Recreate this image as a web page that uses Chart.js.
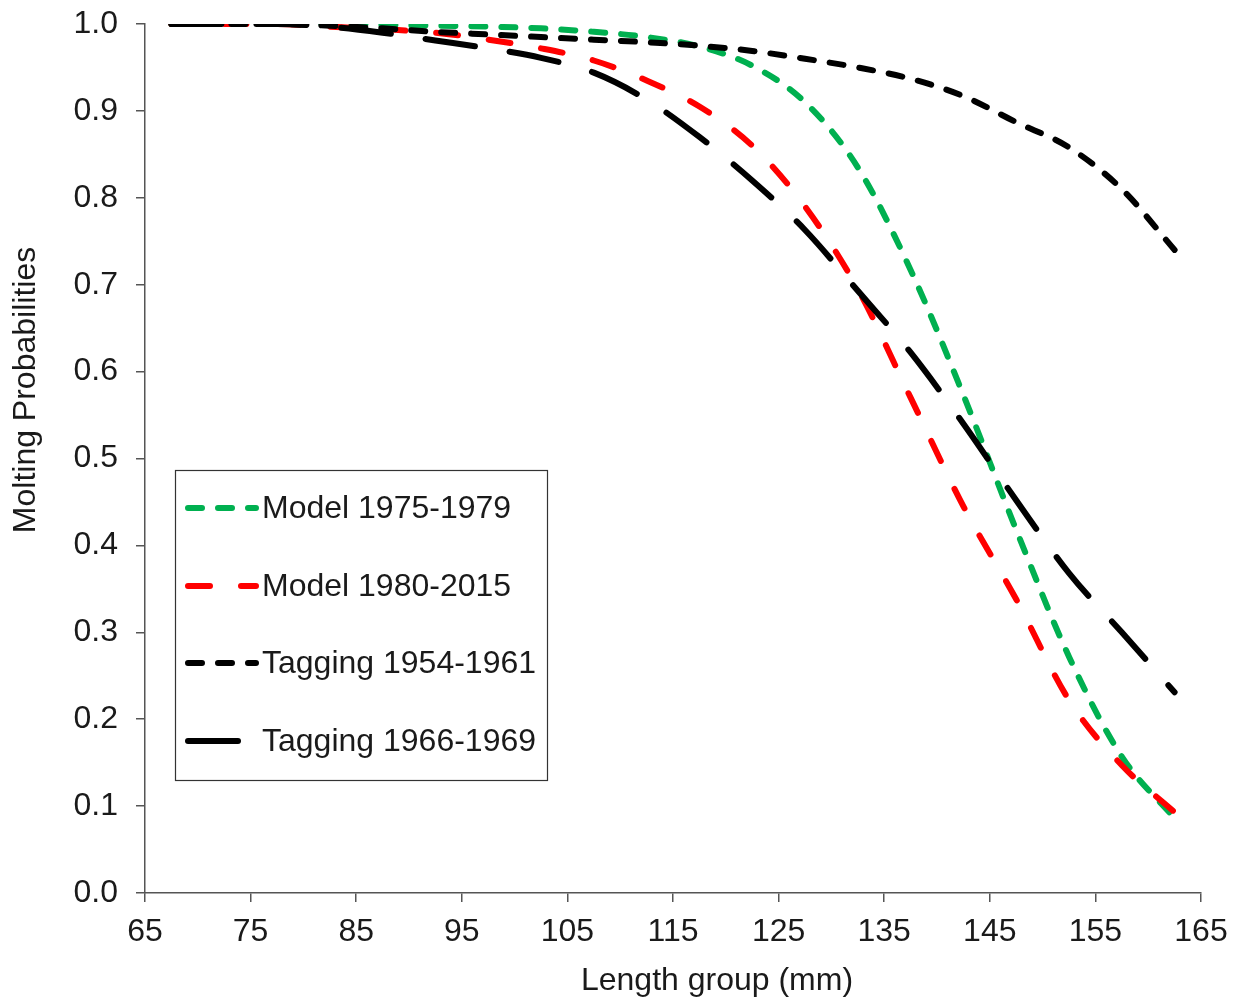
<!DOCTYPE html>
<html>
<head>
<meta charset="utf-8">
<title>Molting probabilities</title>
<script src="https://cdn.jsdelivr.net/npm/chart.js@4.4.1/dist/chart.umd.min.js"></script>
<style>
  html, body { margin: 0; padding: 0; background: #fff; }
  #chart { display: block; }
</style>
</head>
<body>
<canvas id="chart" width="1242" height="1001"></canvas>
<script>
// length group mid-points (mm)
const lengthGroups = [67.5, 72.5, 77.5, 82.5, 87.5, 92.5, 97.5, 102.5, 107.5, 112.5,
                      117.5, 122.5, 127.5, 132.5, 137.5, 142.5, 147.5, 152.5, 157.5, 162.5];

const model1975 = [1.0, 1.0, 1.0, 1.0, 0.999, 0.998, 0.997, 0.995, 0.991, 0.985,
                   0.974, 0.952, 0.91, 0.835, 0.717, 0.573, 0.418, 0.272, 0.157, 0.086];
const model1980 = [1.0, 1.0, 1.0, 0.997, 0.994, 0.99, 0.982, 0.972, 0.958, 0.935,
                   0.905, 0.86, 0.79, 0.695, 0.57, 0.445, 0.338, 0.222, 0.147, 0.093];
const tagging1954 = [1.0, 1.0, 1.0, 0.998, 0.995, 0.991, 0.988, 0.985, 0.982, 0.979,
                     0.975, 0.969, 0.96, 0.95, 0.937, 0.917, 0.887, 0.858, 0.81, 0.74];
const tagging1966 = [1.0, 1.0, 1.0, 0.997, 0.99, 0.981, 0.972, 0.961, 0.944, 0.913,
                     0.87, 0.82, 0.763, 0.693, 0.622, 0.54, 0.452, 0.368, 0.3, 0.231];

const seriesLabels = ['Model 1975-1979', 'Model 1980-2015', 'Tagging 1954-1961', 'Tagging 1966-1969'];
const xTicks = [65, 75, 85, 95, 105, 115, 125, 135, 145, 155, 165];
const yTicks = [0, 0.1, 0.2, 0.3, 0.4, 0.5, 0.6, 0.7, 0.8, 0.9, 1.0];

const FONT = '"Liberation Sans", Arial, sans-serif';
const TEXT = '#1a1a1a';
const AXIS = '#555';

function toPoints(ys) {
  return lengthGroups.map((x, i) => ({ x: x, y: ys[i] }));
}

function lineSet(label, ys, color, dash, order) {
  return {
    label: label,
    data: toPoints(ys),
    borderColor: color,
    borderWidth: 6,
    borderDash: dash,
    borderCapStyle: 'round',
    borderJoinStyle: 'round',
    pointRadius: 0,
    fill: false,
    cubicInterpolationMode: 'monotone',
    order: order
  };
}

// legend box + axis titles drawn on top of the chart
const decorations = {
  id: 'decorations',
  afterDraw(chart) {
    const ctx = chart.ctx;
    ctx.save();

    // legend frame
    ctx.strokeStyle = '#333';
    ctx.lineWidth = 1.2;
    ctx.strokeRect(175.5, 470.5, 372, 310);

    const rowY = [508, 586, 663, 741];
    ctx.font = '32px ' + FONT;
    ctx.textBaseline = 'middle';
    ctx.textAlign = 'left';
    chart.data.datasets.forEach((ds, i) => {
      const y = rowY[i];
      ctx.save();
      ctx.strokeStyle = ds.borderColor;
      ctx.lineWidth = ds.borderWidth;
      ctx.lineCap = 'round';
      ctx.setLineDash(ds.borderDash || []);
      ctx.beginPath();
      ctx.moveTo(188, y);
      ctx.lineTo(i === 3 ? 240 : 256, y);
      ctx.stroke();
      ctx.restore();
      ctx.fillStyle = TEXT;
      ctx.fillText(ds.label, 262, y + 1);
    });

    // axis titles
    ctx.fillStyle = TEXT;
    ctx.font = '32px ' + FONT;
    ctx.textAlign = 'center';
    ctx.textBaseline = 'middle';
    ctx.fillText('Length group (mm)', 717, 981);

    ctx.translate(26, 390);
    ctx.rotate(-Math.PI / 2);
    ctx.fillText('Molting Probabilities', 0, 0);
    ctx.restore();
  }
};

new Chart(document.getElementById('chart'), {
  type: 'line',
  data: {
    datasets: [
      lineSet(seriesLabels[0], model1975, '#00b050', [14, 16], 3),
      lineSet(seriesLabels[1], model1980, '#ff0000', [22, 31], 2),
      lineSet(seriesLabels[2], tagging1954, '#000000', [14, 16], 1),
      lineSet(seriesLabels[3], tagging1966, '#000000', [50, 35], 0)
    ]
  },
  options: {
    responsive: false,
    devicePixelRatio: 1,
    animation: false,
    layout: { padding: { top: 24, right: 41, left: 0, bottom: 0 } },
    plugins: {
      legend: { display: false },
      tooltip: { enabled: false }
    },
    scales: {
      x: {
        type: 'linear',
        min: 65,
        max: 165,
        afterBuildTicks: scale => { scale.ticks = xTicks.map(v => ({ value: v })); },
        afterFit: scale => { scale.height = 108; },
        ticks: {
          color: TEXT,
          font: { family: FONT, size: 32 },
          padding: 11,
          maxRotation: 0
        },
        grid: { drawOnChartArea: false, drawTicks: true, tickLength: 9, color: AXIS, lineWidth: 1.5 },
        border: { color: AXIS, width: 1.5 }
      },
      y: {
        min: 0,
        max: 1,
        afterBuildTicks: scale => { scale.ticks = yTicks.map(v => ({ value: v })); },
        afterFit: scale => {
          scale.width = 145;
          // the top label may overhang the plot; layout padding handles the space
          scale.paddingTop = 0;
          scale.paddingBottom = 0;
        },
        ticks: {
          color: TEXT,
          font: { family: FONT, size: 32 },
          padding: 18,
          callback: v => v.toFixed(1)
        },
        grid: { drawOnChartArea: false, drawTicks: true, tickLength: 9, color: AXIS, lineWidth: 1.5 },
        border: { color: AXIS, width: 1.5 }
      }
    }
  },
  plugins: [decorations]
});
</script>
</body>
</html>
